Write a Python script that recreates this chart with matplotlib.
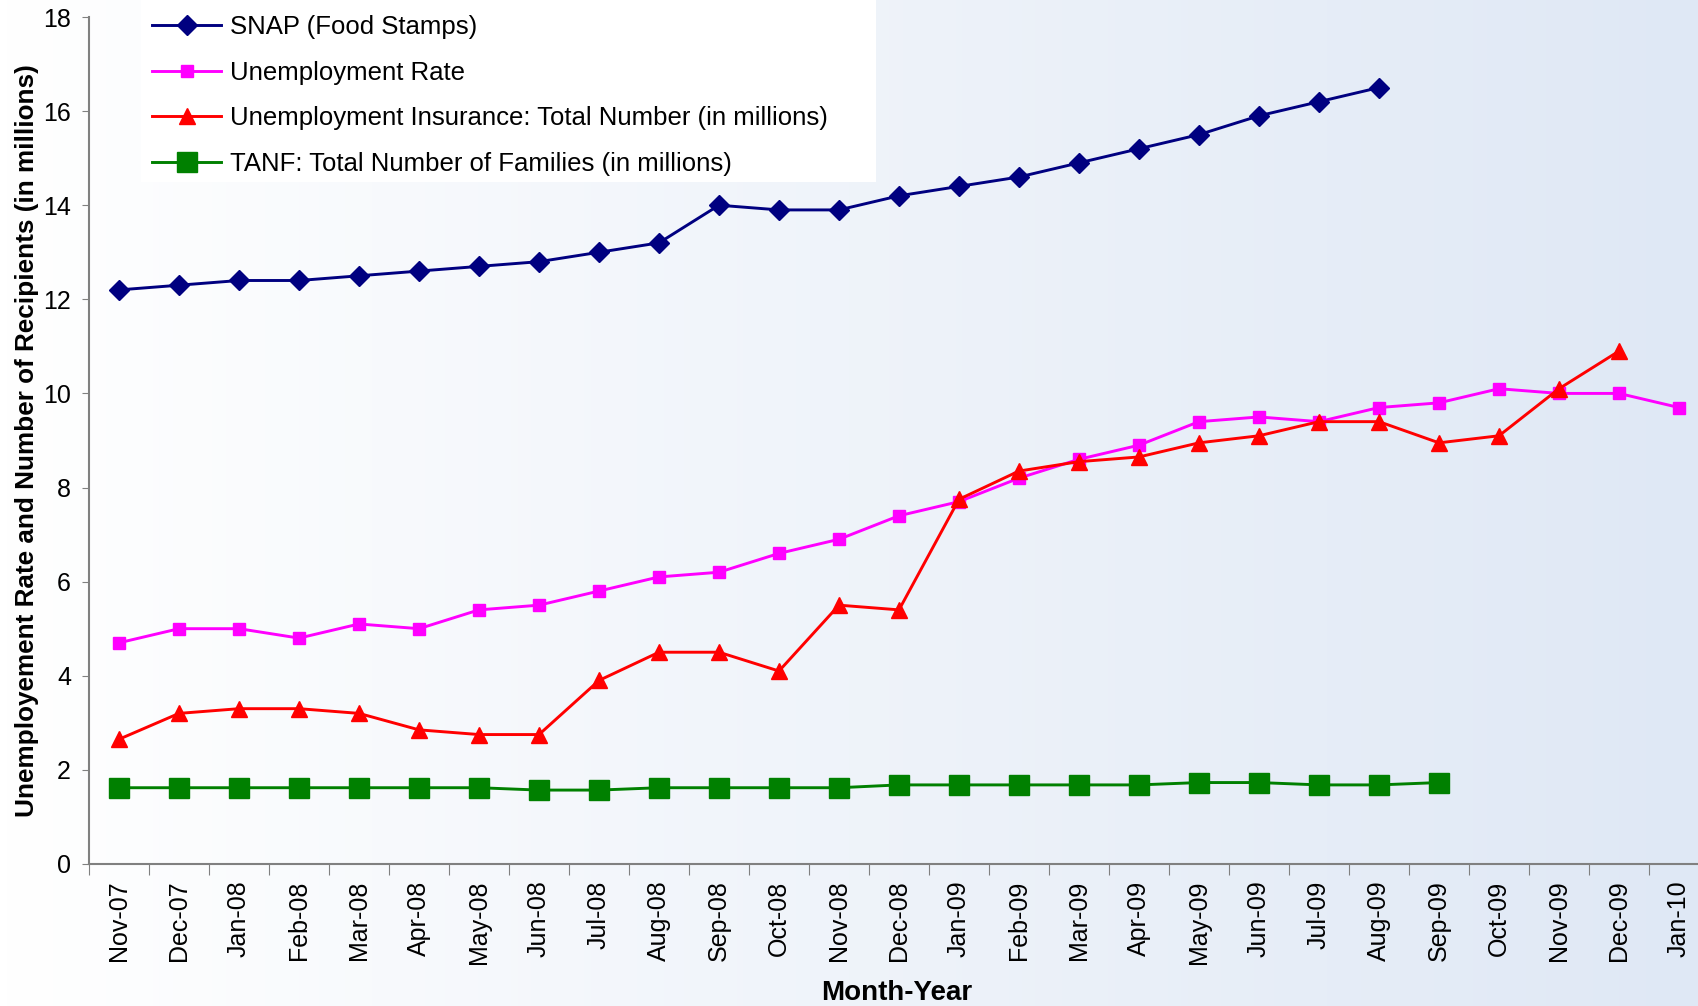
import matplotlib
matplotlib.use("Agg")
import matplotlib.pyplot as plt
import numpy as np
from matplotlib.patches import Rectangle
from matplotlib.colors import LinearSegmentedColormap

plt.rcParams['font.family'] = ['Liberation Sans', 'DejaVu Sans']

# データ
months = ["Nov-07", "Dec-07", "Jan-08", "Feb-08", "Mar-08", "Apr-08", "May-08",
          "Jun-08", "Jul-08", "Aug-08", "Sep-08", "Oct-08", "Nov-08", "Dec-08",
          "Jan-09", "Feb-09", "Mar-09", "Apr-09", "May-09", "Jun-09", "Jul-09",
          "Aug-09", "Sep-09", "Oct-09", "Nov-09", "Dec-09", "Jan-10"]

snap = [12.2, 12.3, 12.4, 12.4, 12.5, 12.6, 12.7, 12.8, 13.0, 13.2, 14.0, 13.9,
        13.9, 14.2, 14.4, 14.6, 14.9, 15.2, 15.5, 15.9, 16.2, 16.5]
unemp_rate = [4.7, 5.0, 5.0, 4.8, 5.1, 5.0, 5.4, 5.5, 5.8, 6.1, 6.2, 6.6, 6.9,
              7.4, 7.7, 8.2, 8.6, 8.9, 9.4, 9.5, 9.4, 9.7, 9.8, 10.1, 10.0,
              10.0, 9.7]
ui_total = [2.65, 3.2, 3.3, 3.3, 3.2, 2.85, 2.75, 2.75, 3.9, 4.5, 4.5, 4.1, 5.5,
            5.4, 7.75, 8.35, 8.55, 8.65, 8.95, 9.1, 9.4, 9.4, 8.95, 9.1, 10.1,
            10.9]
tanf = [1.62, 1.62, 1.62, 1.62, 1.62, 1.62, 1.62, 1.57, 1.57, 1.62, 1.62, 1.62,
        1.62, 1.68, 1.68, 1.68, 1.68, 1.68, 1.73, 1.73, 1.68, 1.68, 1.73]

labels = ["SNAP (Food Stamps)", "Unemployment Rate",
          "Unemployment Insurance: Total Number (in millions)",
          "TANF: Total Number of Families (in millions)"]

fig = plt.figure(figsize=(16.99, 10.06), dpi=100)

# 背景のグラデーション
bg = fig.add_axes([0, 0, 1, 1], zorder=-10)
cmap = LinearSegmentedColormap.from_list("bg", ["#ffffff", "#dfe8f5"])
bg.imshow(np.linspace(0, 1, 512).reshape(1, -1), aspect="auto", cmap=cmap,
          extent=[0, 1, 0, 1])
bg.axis("off")

ax = fig.add_axes([89 / 1699, 0.1412, 1620 / 1699, 0.8419])
ax.patch.set_alpha(0)

x = np.arange(len(months))
l1, = ax.plot(x[:len(snap)], snap, color="#000080", lw=2.1, marker="D", ms=10)
l2, = ax.plot(x[:len(unemp_rate)], unemp_rate, color="#ff00ff", lw=2.1, marker="s", ms=9)
l3, = ax.plot(x[:len(ui_total)], ui_total, color="#ff0000", lw=2.1, marker="^", ms=11)
l4, = ax.plot(x[:len(tanf)], tanf, color="#008000", lw=2.1, marker="s", ms=15)

ax.set_xlim(-0.5, len(months) - 0.5)
ax.set_ylim(0, 18)
ax.set_yticks(range(0, 19, 2))
ax.tick_params(axis="y", labelsize=18, length=5, color="#808080", pad=8)

ax.set_xticks(np.arange(-0.5, len(months), 1))
ax.set_xticklabels([])
ax.tick_params(axis="x", which="major", length=8, color="#808080")
ax.set_xticks(x, minor=True)
ax.set_xticklabels(months, minor=True, rotation=90, fontsize=18)
ax.tick_params(axis="x", which="minor", length=0, pad=12)

for s in ["top", "right"]:
    ax.spines[s].set_visible(False)
for s in ["left", "bottom"]:
    ax.spines[s].set_color("#808080")
    ax.spines[s].set_linewidth(1.5)

ax.set_ylabel("Unemployement Rate and Number of Recipients (in millions)",
              fontsize=18.8, fontweight="bold", labelpad=3)
fig.text(0.528, 0.006, "Month-Year", fontsize=20, fontweight="bold",
         ha="center", va="baseline")

# 凡例
fig.patches.append(Rectangle((141 / 1699, 1 - 182 / 1006), 735 / 1699, 182 / 1006,
                             transform=fig.transFigure, facecolor="white",
                             edgecolor="none", zorder=1))
leg = fig.legend([l1, l2, l3, l4], labels, loc="upper left",
                 bbox_to_anchor=(152 / 1699, 1 - 15 / 1006),
                 frameon=False, fontsize=18.5,
                 handlelength=2.7, handletextpad=0.35, labelspacing=0.84,
                 borderpad=0, borderaxespad=0)
leg.set_zorder(5)

fig.savefig("out.png", dpi=100)
